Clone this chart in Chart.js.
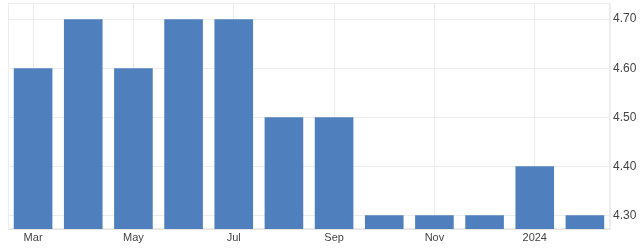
<!DOCTYPE html>
<html lang="en">
<head>
    <meta charset="UTF-8">
    <title>Monthly Rate</title>
    <script src="https://cdn.jsdelivr.net/npm/chart.js"></script>
    <style>
        html, body { margin: 0; padding: 0; background: #fff; }
        #wrap { width: 640px; height: 248px; }
    </style>
</head>
<body>
    <div id="wrap"><canvas id="rateChart"></canvas></div>
    <script>
        // data
        const months = ['Mar', 'Apr', 'May', 'Jun', 'Jul', 'Aug', 'Sep', 'Oct', 'Nov', 'Dec', '2024', 'Feb'];
        const rates = [4.6, 4.7, 4.6, 4.7, 4.7, 4.5, 4.5, 4.3, 4.3, 4.3, 4.4, 4.3];
        const yTicks = [4.3, 4.4, 4.5, 4.6, 4.7];

        // light frame round the plot area
        const framePlugin = {
            id: 'frame',
            beforeDatasetsDraw(chart) {
                const { ctx, chartArea } = chart;
                ctx.save();
                ctx.strokeStyle = '#ececec';
                ctx.lineWidth = 1;
                ctx.strokeRect(chartArea.left + 0.5, chartArea.top + 0.5,
                    chartArea.right - chartArea.left - 1, chartArea.bottom - chartArea.top - 1);
                ctx.restore();
            }
        };

        new Chart(document.getElementById('rateChart'), {
            type: 'bar',
            data: {
                labels: months,
                datasets: [{
                    data: rates,
                    backgroundColor: '#4f80bd',
                    borderWidth: 0,
                    categoryPercentage: 1,
                    barPercentage: 0.77
                }]
            },
            options: {
                responsive: true,
                maintainAspectRatio: false,
                animation: false,
                layout: { padding: { left: 8, top: 3, right: 0, bottom: 0 } },
                plugins: {
                    legend: { display: false },
                    tooltip: { enabled: false }
                },
                scales: {
                    x: {
                        grid: {
                            offset: false,
                            color: ctx => (ctx.index % 2 === 0 ? '#ececec' : 'rgba(0,0,0,0)'),
                            drawTicks: false
                        },
                        border: { color: '#e4e4e4' },
                        ticks: {
                            autoSkip: false,
                            maxRotation: 0,
                            padding: 2,
                            color: '#444',
                            font: { family: 'Liberation Sans, Arial, sans-serif', size: 11 },
                            callback: function (val, i) { return i % 2 === 0 ? this.getLabelForValue(val) : ''; }
                        },
                        afterFit: scale => { scale.height = 19; }
                    },
                    y: {
                        position: 'right',
                        min: 4.272,
                        max: 4.733,
                        afterBuildTicks: scale => { scale.ticks = yTicks.map(v => ({ value: v })); },
                        grid: { color: '#ececec', drawTicks: false },
                        border: { color: '#ececec' },
                        ticks: {
                            padding: 3,
                            color: '#444',
                            font: { family: 'Liberation Sans, Arial, sans-serif', size: 12 },
                            callback: v => v.toFixed(2)
                        },
                        afterFit: scale => {
                            scale.width = 30;
                            scale.paddingTop = 0;
                            scale.paddingBottom = 0;
                        }
                    }
                }
            },
            plugins: [framePlugin]
        });
    </script>
</body>
</html>
